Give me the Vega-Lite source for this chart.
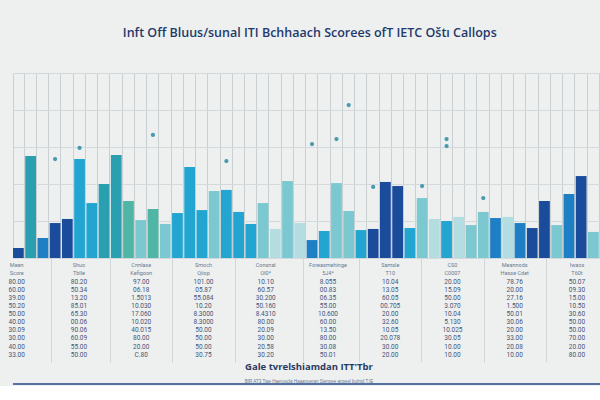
{
  "$schema": "https://vega.github.io/schema/vega-lite/v6.json",
  "background": "#edf0ef",
  "padding": {"left": 8, "top": 26, "right": 0, "bottom": 0},
  "title": {"text": "Inft Off Bluus/sunal ITI Bchhaach Scorees ofT IETC Oštı Callops", "fontSize": 12.5, "font": "Open Sans", "fontWeight": 600, "color": "#24396b", "anchor": "middle", "offset": 34},
  "spacing": 0,
  "config": {"view": {"stroke": null}},
  "datasets": {
    "bars": [
      {"id": 1, "score": 5.4, "group": "A"}, {"id": 2, "score": 55.1, "group": "D"}, {"id": 3, "score": 10.8, "group": "B"},
      {"id": 4, "score": 18.9, "group": "A"}, {"id": 5, "score": 21.1, "group": "A"}, {"id": 6, "score": 53.5, "group": "C"},
      {"id": 7, "score": 29.7, "group": "C"}, {"id": 8, "score": 40.0, "group": "D"}, {"id": 9, "score": 55.7, "group": "D"},
      {"id": 10, "score": 30.8, "group": "G"}, {"id": 11, "score": 20.5, "group": "E"}, {"id": 12, "score": 26.5, "group": "G"},
      {"id": 13, "score": 18.4, "group": "E"}, {"id": 14, "score": 24.3, "group": "C"}, {"id": 15, "score": 49.2, "group": "C"},
      {"id": 16, "score": 25.9, "group": "C"}, {"id": 17, "score": 36.2, "group": "E"}, {"id": 18, "score": 36.8, "group": "C"},
      {"id": 19, "score": 24.9, "group": "C"}, {"id": 20, "score": 18.4, "group": "C"}, {"id": 21, "score": 29.7, "group": "E"},
      {"id": 22, "score": 15.7, "group": "F"}, {"id": 23, "score": 41.6, "group": "E"}, {"id": 24, "score": 18.9, "group": "F"},
      {"id": 25, "score": 9.7, "group": "B"}, {"id": 26, "score": 14.6, "group": "C"}, {"id": 27, "score": 40.5, "group": "E"},
      {"id": 28, "score": 25.4, "group": "E"}, {"id": 29, "score": 15.1, "group": "C"}, {"id": 30, "score": 15.7, "group": "A"},
      {"id": 31, "score": 41.1, "group": "A"}, {"id": 32, "score": 38.9, "group": "A"}, {"id": 33, "score": 16.2, "group": "C"},
      {"id": 34, "score": 32.4, "group": "E"}, {"id": 35, "score": 21.1, "group": "F"}, {"id": 36, "score": 20.0, "group": "C"},
      {"id": 37, "score": 22.2, "group": "F"}, {"id": 38, "score": 17.8, "group": "E"}, {"id": 39, "score": 24.9, "group": "E"},
      {"id": 40, "score": 21.6, "group": "B"}, {"id": 41, "score": 22.2, "group": "F"}, {"id": 42, "score": 18.9, "group": "B"},
      {"id": 43, "score": 16.2, "group": "A"}, {"id": 44, "score": 30.8, "group": "A"}, {"id": 45, "score": 17.8, "group": "E"},
      {"id": 46, "score": 34.6, "group": "B"}, {"id": 47, "score": 44.3, "group": "A"}, {"id": 48, "score": 14.1, "group": "E"},
      {"id": 49, "score": 75.7, "group": "A"}
    ],
    "dots": [
      {"id": 4, "score": 53.5}, {"id": 6, "score": 59.5}, {"id": 12, "score": 66.5}, {"id": 18, "score": 52.4},
      {"id": 25, "score": 61.6}, {"id": 27, "score": 64.3}, {"id": 28, "score": 82.7}, {"id": 30, "score": 38.4},
      {"id": 34, "score": 38.9}, {"id": 36, "score": 64.3}, {"id": 36, "score": 60.5}, {"id": 39, "score": 32.4},
      {"id": 49, "score": 89.7}
    ],
    "table": [
      {"c": 1, "r": 1, "t": "Mean"}, {"c": 1, "r": 2, "t": "Score"},
      {"c": 2, "r": 1, "t": "Shuo"}, {"c": 2, "r": 2, "t": "Tblle"},
      {"c": 3, "r": 1, "t": "Cnnlase"}, {"c": 3, "r": 2, "t": "Kefigoon"},
      {"c": 4, "r": 1, "t": "Smoch"}, {"c": 4, "r": 2, "t": "Qiiop"},
      {"c": 5, "r": 1, "t": "Consnal"}, {"c": 5, "r": 2, "t": "Ol0*"},
      {"c": 6, "r": 1, "t": "Foreasmehinge"}, {"c": 6, "r": 2, "t": "5J4*"},
      {"c": 7, "r": 1, "t": "Samsle"}, {"c": 7, "r": 2, "t": "T10"},
      {"c": 8, "r": 1, "t": "CS0"}, {"c": 8, "r": 2, "t": "C0007"},
      {"c": 9, "r": 1, "t": "Meannods"}, {"c": 9, "r": 2, "t": "Hasse Cdet"},
      {"c": 10, "r": 1, "t": "Iwaos"}, {"c": 10, "r": 2, "t": "T60t"},
      {"c": 1, "r": 3, "t": "80.00"}, {"c": 1, "r": 4, "t": "60.00"}, {"c": 1, "r": 5, "t": "39.00"}, {"c": 1, "r": 6, "t": "50.20"}, {"c": 1, "r": 7, "t": "50.00"},
      {"c": 1, "r": 8, "t": "40.00"}, {"c": 1, "r": 9, "t": "30.09"}, {"c": 1, "r": 10, "t": "30.00"}, {"c": 1, "r": 11, "t": "40.00"}, {"c": 1, "r": 12, "t": "33.00"},
      {"c": 2, "r": 3, "t": "80.20"}, {"c": 2, "r": 4, "t": "50.34"}, {"c": 2, "r": 5, "t": "13.20"}, {"c": 2, "r": 6, "t": "85.01"}, {"c": 2, "r": 7, "t": "65.30"},
      {"c": 2, "r": 8, "t": "00.06"}, {"c": 2, "r": 9, "t": "90.06"}, {"c": 2, "r": 10, "t": "60.09"}, {"c": 2, "r": 11, "t": "55.00"}, {"c": 2, "r": 12, "t": "50.00"},
      {"c": 3, "r": 3, "t": "97.00"}, {"c": 3, "r": 4, "t": "06.18"}, {"c": 3, "r": 5, "t": "1.5013"}, {"c": 3, "r": 6, "t": "10.030"}, {"c": 3, "r": 7, "t": "17.060"},
      {"c": 3, "r": 8, "t": "10.020"}, {"c": 3, "r": 9, "t": "40.015"}, {"c": 3, "r": 10, "t": "80.00"}, {"c": 3, "r": 11, "t": "20.00"}, {"c": 3, "r": 12, "t": "C.80"},
      {"c": 4, "r": 3, "t": "101.00"}, {"c": 4, "r": 4, "t": "05.87"}, {"c": 4, "r": 5, "t": "55.084"}, {"c": 4, "r": 6, "t": "10.20"}, {"c": 4, "r": 7, "t": "8.3000"},
      {"c": 4, "r": 8, "t": "8.3000"}, {"c": 4, "r": 9, "t": "50.00"}, {"c": 4, "r": 10, "t": "50.00"}, {"c": 4, "r": 11, "t": "50.00"}, {"c": 4, "r": 12, "t": "30.75"},
      {"c": 5, "r": 3, "t": "10.10"}, {"c": 5, "r": 4, "t": "60.57"}, {"c": 5, "r": 5, "t": "30.200"}, {"c": 5, "r": 6, "t": "50.160"}, {"c": 5, "r": 7, "t": "8.4310"},
      {"c": 5, "r": 8, "t": "80.00"}, {"c": 5, "r": 9, "t": "20.09"}, {"c": 5, "r": 10, "t": "30.00"}, {"c": 5, "r": 11, "t": "20.58"}, {"c": 5, "r": 12, "t": "30.20"},
      {"c": 6, "r": 3, "t": "8.055"}, {"c": 6, "r": 4, "t": "00.83"}, {"c": 6, "r": 5, "t": "06.35"}, {"c": 6, "r": 6, "t": "55.00"}, {"c": 6, "r": 7, "t": "10.600"},
      {"c": 6, "r": 8, "t": "60.00"}, {"c": 6, "r": 9, "t": "13.50"}, {"c": 6, "r": 10, "t": "80.00"}, {"c": 6, "r": 11, "t": "30.08"}, {"c": 6, "r": 12, "t": "50.01"},
      {"c": 7, "r": 3, "t": "10.04"}, {"c": 7, "r": 4, "t": "13.05"}, {"c": 7, "r": 5, "t": "60.05"}, {"c": 7, "r": 6, "t": "00.705"}, {"c": 7, "r": 7, "t": "20.00"},
      {"c": 7, "r": 8, "t": "32.60"}, {"c": 7, "r": 9, "t": "10.05"}, {"c": 7, "r": 10, "t": "20.078"}, {"c": 7, "r": 11, "t": "30.00"}, {"c": 7, "r": 12, "t": "20.00"},
      {"c": 8, "r": 3, "t": "20.00"}, {"c": 8, "r": 4, "t": "15.09"}, {"c": 8, "r": 5, "t": "50.00"}, {"c": 8, "r": 6, "t": "3.070"}, {"c": 8, "r": 7, "t": "10.04"},
      {"c": 8, "r": 8, "t": "5.130"}, {"c": 8, "r": 9, "t": "10.025"}, {"c": 8, "r": 10, "t": "30.05"}, {"c": 8, "r": 11, "t": "10.00"}, {"c": 8, "r": 12, "t": "10.00"},
      {"c": 9, "r": 3, "t": "78.76"}, {"c": 9, "r": 4, "t": "20.00"}, {"c": 9, "r": 5, "t": "27.16"}, {"c": 9, "r": 6, "t": "1.500"}, {"c": 9, "r": 7, "t": "50.01"},
      {"c": 9, "r": 8, "t": "30.06"}, {"c": 9, "r": 9, "t": "20.00"}, {"c": 9, "r": 10, "t": "33.00"}, {"c": 9, "r": 11, "t": "20.08"}, {"c": 9, "r": 12, "t": "10.00"},
      {"c": 10, "r": 3, "t": "50.07"}, {"c": 10, "r": 4, "t": "09.30"}, {"c": 10, "r": 5, "t": "15.00"}, {"c": 10, "r": 6, "t": "10.50"}, {"c": 10, "r": 7, "t": "30.60"},
      {"c": 10, "r": 8, "t": "50.00"}, {"c": 10, "r": 9, "t": "50.00"}, {"c": 10, "r": 10, "t": "70.00"}, {"c": 10, "r": 11, "t": "20.00"}, {"c": 10, "r": 12, "t": "80.00"}
    ]
  },
  "vconcat": [
    {
      "width": 598,
      "height": 185,
      "layer": [
        {
          "data": {"name": "bars"},
          "mark": {"type": "bar"},
          "encoding": {
            "x": {"field": "id", "type": "ordinal", "sort": "ascending", "scale": {"paddingInner": 0.12, "paddingOuter": 0},
                  "axis": {"title": null, "labels": false, "ticks": false, "domain": false, "grid": true, "gridColor": "#c8d0d4", "gridWidth": 1, "tickBand": "extent",
                           "values": [1, 2, 3, 4, 5, 6, 7, 8, 9, 10, 11, 12, 13, 14, 15, 16, 17, 18, 19, 20, 21, 22, 23, 24, 25, 26, 27, 28, 29, 30, 31, 32, 33, 34, 35, 36, 37, 38, 39, 40, 41, 42, 43, 44, 45, 46, 47, 48, 49]}},
            "y": {"field": "score", "type": "quantitative", "scale": {"domain": [0, 100]},
                  "axis": {"title": null, "labels": false, "ticks": false, "domain": false, "grid": true, "gridColor": "#d3d9dc", "tickCount": 5}},
            "color": {"field": "group", "type": "nominal", "legend": null,
                      "scale": {"domain": ["A", "B", "C", "D", "E", "F", "G"], "range": ["#1b4c9c", "#1f7fc4", "#22a6d1", "#2a9fb0", "#7cc8d0", "#b3dde0", "#4fb5a5"]}}
          }
        },
        {
          "data": {"name": "dots"},
          "mark": {"type": "circle", "opacity": 0.85},
          "encoding": {
            "x": {"field": "id", "type": "ordinal", "sort": "ascending"},
            "y": {"field": "score", "type": "quantitative"},
            "size": {"value": 18},
            "color": {"value": "#2b8aa3"}
          }
        }
      ]
    },
    {
      "width": 592,
      "height": 104,
      "data": {"name": "table"},
      "encoding": {
        "x": {"field": "c", "type": "quantitative", "scale": {"domain": [0.94, 10.45], "nice": false, "zero": false},
              "axis": {"title": null, "labels": false, "ticks": false, "domain": false, "grid": true, "gridColor": "#d0d7db", "values": [1.55, 2.5, 3.5, 4.5, 5.6, 6.5, 7.5, 8.5, 9.5]}},
        "y": {"field": "r", "type": "ordinal", "sort": "ascending", "scale": {"type": "point", "padding": 0.9}, "axis": null}
      },
      "layer": [
        {
          "transform": [{"filter": "datum.r <= 2"}],
          "mark": {"type": "text", "fontSize": 5.5, "font": "Roboto", "color": "#6b7a90"},
          "encoding": {"text": {"field": "t"}}
        },
        {
          "transform": [{"filter": "datum.r > 2"}],
          "mark": {"type": "text", "fontSize": 6.5, "font": "Roboto", "color": "#44557a"},
          "encoding": {"text": {"field": "t"}}
        }
      ]
    },
    {
      "width": 592,
      "height": 2,
      "title": {"text": "Gale tvrelshiamdan ITT'Tbr", "orient": "top", "anchor": "middle", "fontSize": 9.5, "font": "Open Sans", "fontWeight": 700, "color": "#2a3a5e", "offset": 0,
                "subtitle": "BfR AT3 Tiae Haeruscla                              Haaanoeran Sienpee anpesl bufnid T.IE", "subtitleFontSize": 4.5, "subtitleColor": "#6a7a95", "subtitlePadding": 7},
      "data": {"values": [{"start": 0, "end": 1, "line": 1}]},
      "mark": {"type": "rule", "color": "#3b5a93", "strokeWidth": 2, "opacity": 0.85},
      "encoding": {
        "x": {"field": "start", "type": "quantitative", "scale": {"domain": [0, 1]}, "axis": null},
        "x2": {"field": "end"},
        "y": {"field": "line", "type": "quantitative", "scale": {"domain": [0, 1]}, "axis": null}
      }
    }
  ]
}
